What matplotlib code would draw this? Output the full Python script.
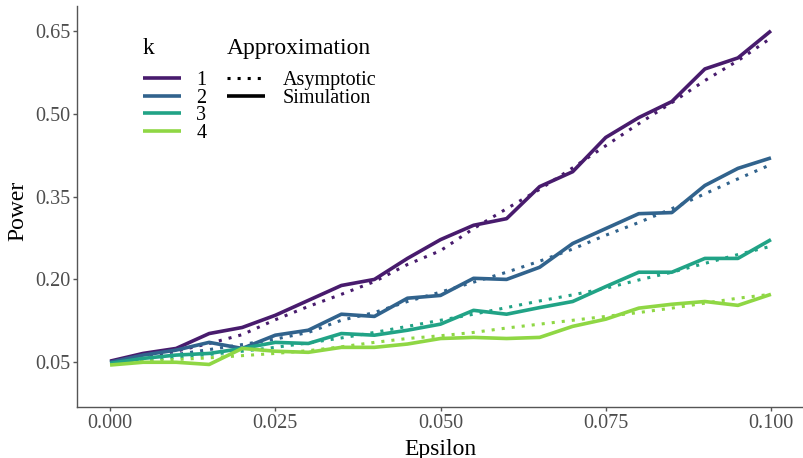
import matplotlib
matplotlib.use("Agg")
import matplotlib.pyplot as plt
from matplotlib.lines import Line2D

plt.rcParams['font.family'] = ['Liberation Serif', 'DejaVu Serif']

epsilon = [0.000, 0.005, 0.010, 0.015, 0.020, 0.025, 0.030, 0.035, 0.040, 0.045, 0.050,
           0.055, 0.060, 0.065, 0.070, 0.075, 0.080, 0.085, 0.090, 0.095, 0.100]

k_levels = ["1", "2", "3", "4"]
k_colors = ["#481B6D", "#31638D", "#21A386", "#8FD744"]

# Simulated power for each k
sim_k1 = [0.052, 0.066, 0.075, 0.102, 0.113, 0.135, 0.162, 0.189, 0.200, 0.238, 0.272,
          0.298, 0.310, 0.368, 0.395, 0.457, 0.493, 0.522, 0.581, 0.601, 0.650]
sim_k2 = [0.050, 0.063, 0.072, 0.086, 0.075, 0.099, 0.108, 0.137, 0.133, 0.166, 0.171,
          0.202, 0.200, 0.222, 0.265, 0.292, 0.319, 0.321, 0.370, 0.401, 0.420]
sim_k3 = [0.048, 0.057, 0.063, 0.066, 0.075, 0.086, 0.084, 0.102, 0.099, 0.108, 0.119,
          0.144, 0.137, 0.149, 0.160, 0.187, 0.213, 0.213, 0.238, 0.238, 0.272]
sim_k4 = [0.045, 0.050, 0.050, 0.046, 0.075, 0.070, 0.068, 0.077, 0.077, 0.083, 0.093,
          0.095, 0.093, 0.095, 0.115, 0.128, 0.148, 0.155, 0.160, 0.153, 0.173]

# Asymptotic power for each k
asy_k1 = [0.050, 0.059, 0.070, 0.084, 0.100, 0.127, 0.151, 0.173, 0.196, 0.227, 0.252,
          0.292, 0.328, 0.363, 0.402, 0.442, 0.482, 0.520, 0.560, 0.596, 0.637]
asy_k2 = [0.050, 0.057, 0.064, 0.073, 0.082, 0.092, 0.104, 0.126, 0.140, 0.160, 0.177,
          0.195, 0.213, 0.233, 0.255, 0.280, 0.303, 0.328, 0.355, 0.382, 0.408]
asy_k3 = [0.050, 0.054, 0.059, 0.064, 0.070, 0.077, 0.085, 0.094, 0.104, 0.115, 0.126,
          0.137, 0.149, 0.161, 0.172, 0.184, 0.199, 0.213, 0.229, 0.245, 0.260]
asy_k4 = [0.050, 0.052, 0.055, 0.058, 0.062, 0.066, 0.071, 0.078, 0.086, 0.093, 0.098,
          0.104, 0.112, 0.119, 0.126, 0.133, 0.140, 0.148, 0.157, 0.166, 0.173]

sim_series = [sim_k1, sim_k2, sim_k3, sim_k4]
asy_series = [asy_k1, asy_k2, asy_k3, asy_k4]

x_ticks = [0.000, 0.025, 0.050, 0.075, 0.100]
x_ticklabels = ["0.000", "0.025", "0.050", "0.075", "0.100"]
y_ticks = [0.05, 0.20, 0.35, 0.50, 0.65]
y_ticklabels = ["0.05", "0.20", "0.35", "0.50", "0.65"]

W, H = 804, 458
fig = plt.figure(figsize=(W / 100, H / 100), dpi=100)
ax = fig.add_axes([77 / W, 51 / H, (W - 77) / W, (H - 51 - 6) / H])

dotted = (0, (1, 2.3))
for asy, col in zip(asy_series, k_colors):
    ax.plot(epsilon, asy, color=col, lw=2.2, linestyle=dotted, dash_capstyle='butt')
for sim, col in zip(sim_series, k_colors):
    ax.plot(epsilon, sim, color=col, lw=2.6, solid_capstyle='butt', solid_joinstyle='round')

ax.set_xlim(-0.005, 0.105)
ax.set_ylim(-0.031, 0.695)
ax.set_xticks(x_ticks)
ax.set_xticklabels(x_ticklabels)
ax.set_yticks(y_ticks)
ax.set_yticklabels(y_ticklabels)

axis_grey = "#555555"
for side in ["top", "right"]:
    ax.spines[side].set_visible(False)
for side in ["left", "bottom"]:
    ax.spines[side].set_color(axis_grey)
    ax.spines[side].set_linewidth(1.0)
ax.tick_params(axis="both", colors=axis_grey, labelcolor="#4D4D4D", labelsize=14.5,
               length=3, width=1.0, pad=2)

ax.set_xlabel("Epsilon", fontsize=17, labelpad=4)
ax.set_ylabel("Power", fontsize=17, labelpad=6)
ax.yaxis.set_label_coords(-0.067, 0.49)

legend_kw = dict(loc="upper left", bbox_transform=fig.transFigure, frameon=False,
                 fontsize=14.5, title_fontsize=17, handlelength=1.9,
                 labelspacing=-0.065, borderpad=0, borderaxespad=0, alignment="left")

# Legend for k (colour)
k_handles = [Line2D([], [], color=c, lw=2.6, solid_capstyle='butt') for c in k_colors]
leg1 = ax.legend(k_handles, k_levels, title="k", bbox_to_anchor=(143 / W, 1 - 38 / H),
                 handletextpad=0.75, **legend_kw)
leg1._legend_box.sep = 8.5
ax.add_artist(leg1)

# Legend for approximation type (line style)
a_handles = [Line2D([], [], color="black", lw=2.2, linestyle=dotted, dash_capstyle='butt'),
             Line2D([], [], color="black", lw=2.6, solid_capstyle='butt')]
leg2 = ax.legend(a_handles, ["Asymptotic", "Simulation"], title="Approximation",
                 bbox_to_anchor=(227 / W, 1 - 38 / H), handletextpad=0.85, **legend_kw)
leg2._legend_box.sep = 8.5

fig.savefig("out.png", dpi=100)
